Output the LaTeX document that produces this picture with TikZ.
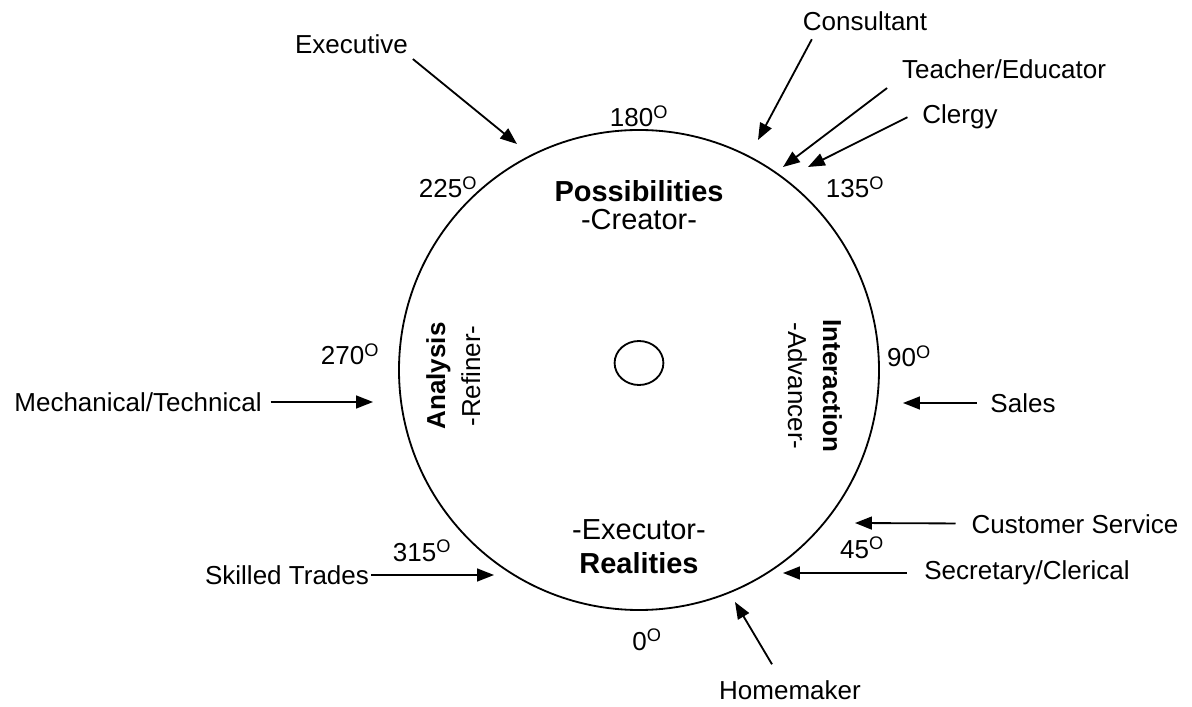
\documentclass[tikz,border=0pt]{standalone}
\usepackage{fontspec}
\setmainfont{Liberation Sans}
\usetikzlibrary{calc,positioning,arrows.meta,shapes.geometric}

\newcommand{\dg}[1]{#1\textsuperscript{O}}

\begin{document}
\begin{tikzpicture}[
  font=\fontsize{18.5}{20}\selectfont,
  ring/.style={draw=black,line width=1.3pt,inner sep=0pt},
  core/.style={anchor=base,font=\fontsize{20.6}{22}\selectfont},
  pointer/.style={-{Triangle[length=0.42cm,width=0.32cm]},line width=1.3pt},
  ]
  \useasboundingbox (-15.975,-8.425) rectangle (13.825,9.25);

  % the wheel
  \node (wheel) [ring,circle,minimum size=12cm] at (0,0) {};
  \node (hub) [ring,ellipse,minimum width=1.22cm,minimum height=1.1cm] at ($(wheel.center)+(0,0.175)$) {};

  % quadrants
  \node (poss) [core] at (0,4.2) {\textbf{Possibilities}};
  \node (creator) [core] at (0,3.5) {-Creator-};
  \node (executor) [core] at (0,-4.225) {-Executor-};
  \node (real) [core] at (0,-5.075) {\textbf{Realities}};
  \node (anal) [anchor=base,rotate=90] at (-4.85,-0.15) {\textbf{Analysis}};
  \node (refiner) [anchor=base,rotate=90] at (-3.975,-0.15) {-Refiner-};
  \node (inter) [anchor=base,rotate=-90] at (4.6,-0.4) {\textbf{Interaction}};
  \node (advancer) [anchor=base,rotate=-90] at (3.725,-0.4) {-Advancer-};

  % degrees round the rim
  \foreach \a/\x/\y in {180/0/6.075, 225/-4.775/4.3, 135/5.4/4.3, 270/-7.225/0.125,
                        90/6.75/0.075, 45/5.575/-4.7, 315/-5.425/-4.775, 0/0.2/-7.0}
  {
    \node (deg_\a) [anchor=base] at (\x,\y) {\dg{\a}};
  }

  % careers
  \node (exec) at (-7.1875,8.1375) {Executive};
  \node (cons) at (5.65,8.7125) {Consultant};
  \node (teach) at (9.125,7.5125) {Teacher/Educator};
  \node (clergy) at (8.025,6.32) {Clergy};
  \node (mech) at (-12.525,-0.8) {Mechanical/Technical};
  \node (sales) at (9.6,-0.825) {Sales};
  \node (cust) at (10.9,-3.85) {Customer Service};
  \node (secr) at (9.7,-5.075) {Secretary/Clerical};
  \node (skill) [inner sep=0.05cm] at (-8.8,-5.125) {Skilled Trades};
  \node (home) at (3.775,-8.0) {Homemaker};

  % where the arrows land
  \coordinate (exec_tip) at (-3.05,5.65);
  \coordinate (cons_tip) at (2.975,5.75);
  \coordinate (teach_tip) at (3.6,5.075);
  \coordinate (clergy_tip) at (4.225,5.075);
  \coordinate (mech_tip) at (-6.65,-0.8);
  \coordinate (sales_tip) at (6.6,-0.825);
  \coordinate (cust_tip) at (5.4,-3.825);
  \coordinate (secr_tip) at (3.6,-5.075);
  \coordinate (skill_tip) at (-3.625,-5.125);
  \coordinate (home_tip) at (2.4,-5.8);

  \draw[pointer] (exec.south east) -- (exec_tip);
  \draw[pointer] ([xshift=0.35cm,yshift=-0.08cm]cons.south west) -- (cons_tip);
  \draw[pointer] ([xshift=-0.25cm,yshift=-0.1cm]teach.south west) -- (teach_tip);
  \draw[pointer] ([xshift=-0.25cm]clergy.west) -- (clergy_tip);
  \draw[pointer,shorten <=0.1cm] (mech) -- (mech_tip);
  \draw[pointer,shorten <=0.22cm] (sales) -- (sales_tip);
  \draw[pointer,shorten <=0.28cm] (cust) -- (cust_tip);
  \draw[pointer,shorten <=0.32cm] (secr) -- (secr_tip);
  \draw[pointer] (skill) -- (skill_tip);
  \draw[pointer] ([xshift=-0.45cm,yshift=0.28cm]home.north) -- (home_tip);

\end{tikzpicture}
\end{document}
